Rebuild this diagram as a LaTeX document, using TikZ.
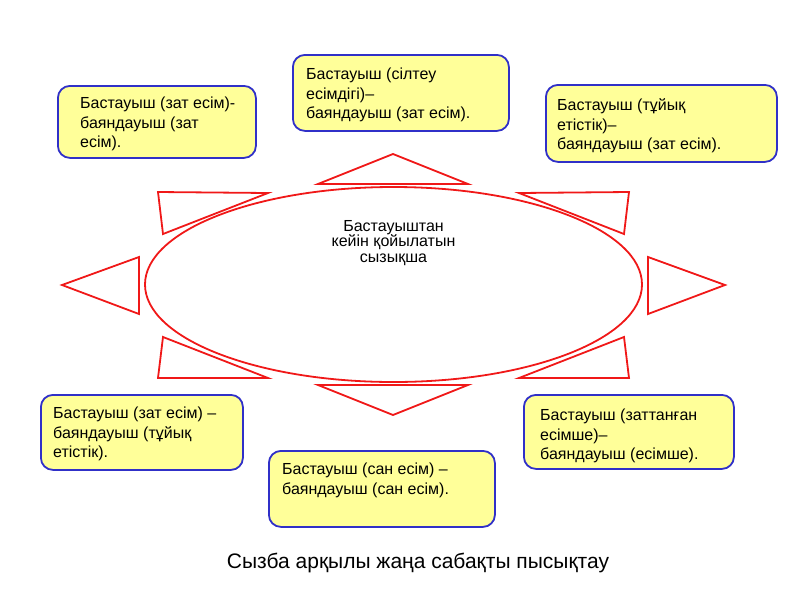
\documentclass[tikz,border=0pt]{standalone}
\usepackage{fontspec}
\setmainfont{Liberation Sans}
\definecolor{Lemon}{HTML}{FFFF99}
\definecolor{Ink}{HTML}{3030C8}
\definecolor{Signal}{HTML}{F01818}

\begin{document}
\begin{tikzpicture}[x=1pt, y=-1pt,
  card/.style={rounded corners=12pt, fill=Lemon, draw=Ink, line width=1.8pt, anchor=north west, inner sep=0pt},
  cardtext/.style={anchor=base west, align=left, inner sep=0pt, font=\fontsize{16}{19.5}\selectfont},
  ray/.style={draw=Signal, line width=1.8pt, line join=miter}]
\useasboundingbox (0,0) rectangle (800,600);

% the oval and its rays
\draw[ray] (393.5,284.5) ellipse [x radius=248.5, y radius=97.5];
\node[align=center, inner sep=0pt, font=\fontsize{16}{15.5}\selectfont] (hub) at (393.5,243) {Бастауыштан\\кейін қойылатын\\сызықша};
\draw[ray] (393,154) -- (468,184) -- (318,184) -- cycle;
\draw[ray] (393,415) -- (468,385) -- (318,385) -- cycle;
\draw[ray] (62,285) -- (139,257) -- (139,314) -- cycle;
\draw[ray] (725,285) -- (648,257) -- (648,314) -- cycle;
\draw[ray] (158,192) -- (268,193) -- (163,234) -- cycle;
\draw[ray] (629,192) -- (519,193) -- (624,234) -- cycle;
\draw[ray] (158,378) -- (268,378) -- (163,337) -- cycle;
\draw[ray] (629,378) -- (519,378) -- (624,337) -- cycle;

% the cards (text anchored on its last line)
\node[card, minimum width=198pt, minimum height=72pt] (tl) at (57,85) {};
\node[cardtext] (tltext) at (80,147.5) {Бастауыш (зат есім)-\\баяндауыш (зат\\есім).};
\node[card, minimum width=216pt, minimum height=76pt] (tc) at (292,54) {};
\node[cardtext] (tctext) at (306,118.5) {Бастауыш (сілтеу\\есімдігі)--\\баяндауыш (зат есім).};
\node[card, minimum width=231pt, minimum height=77pt] (tr) at (545,84) {};
\node[cardtext] (trtext) at (557,149.5) {Бастауыш (тұйық\\етістік)--\\баяндауыш (зат есім).};
\node[card, minimum width=202pt, minimum height=75pt] (bl) at (40,394) {};
\node[cardtext] (bltext) at (53,457.5) {Бастауыш (зат есім) --\\баяндауыш (тұйық\\етістік).};
\node[card, minimum width=226pt, minimum height=76pt] (bc) at (268,450) {};
\node[cardtext] (bctext) at (282,494) {Бастауыш (сан есім) --\\баяндауыш (сан есім).};
\node[card, minimum width=210pt, minimum height=74pt] (br) at (523,394) {};
\node[cardtext] (brtext) at (540,459.5) {Бастауыш (заттанған\\есімше)--\\баяндауыш (есімше).};

\node[font=\fontsize{21}{24}\selectfont, inner sep=0pt] (title) at (418,563) {Сызба арқылы жаңа сабақты пысықтау};
\end{tikzpicture}
\end{document}
